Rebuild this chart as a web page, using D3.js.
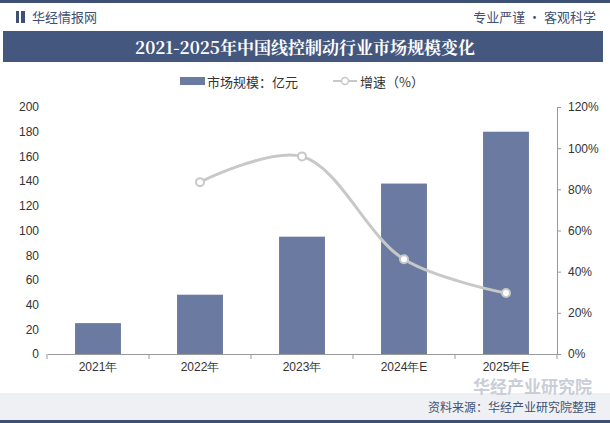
<!DOCTYPE html><html><head><meta charset="utf-8"><script src="https://cdn.jsdelivr.net/npm/d3@7"></script>
<style>body{margin:0;background:#fff}svg{display:block;font-family:"Noto Sans CJK SC","Noto Sans",sans-serif}</style></head><body><svg id="c" width="610" height="423"></svg><script>
const categories=["2021年","2022年","2023年","2024年E","2025年E"];
const marketSize=[25,48,95,138,180];
const growth=[null,83.5,96,46,29.6];
const leftTicks=[0,20,40,60,80,100,120,140,160,180,200];
const rightTicks=[0,20,40,60,80,100,120];
const svg=d3.select("#c");
svg.append("rect").attr("x",0).attr("y",0).attr("width",610).attr("height",3).attr("fill","#3f5075");
svg.append("rect").attr("x",16).attr("y",11).attr("width",3).attr("height",12).attr("fill","#3f5075");
svg.append("rect").attr("x",21).attr("y",11).attr("width",4).attr("height",12).attr("fill","#3f5075");
svg.append("text").attr("x",32).attr("y",22).attr("font-size",13).attr("fill","#3f5075").text("华经情报网");
svg.append("text").attr("x",596).attr("y",22).attr("text-anchor","end").attr("font-size",13).attr("fill","#3f5075").text("专业严谨 • 客观科学");
svg.append("rect").attr("x",3).attr("y",31).attr("width",600).attr("height",31).attr("fill","#44577e");
svg.append("text").attr("x",305).attr("y",54).attr("text-anchor","middle").attr("font-size",17).attr("font-weight","bold").attr("fill","#fff").attr("font-family","'Noto Serif CJK SC','Noto Sans CJK SC',serif").text("2021-2025年中国线控制动行业市场规模变化");
svg.append("rect").attr("x",180).attr("y",77).attr("width",25).attr("height",8).attr("fill","#6a7aa0");
svg.append("text").attr("x",207).attr("y",87).attr("font-size",13).attr("fill","#333").text("市场规模：亿元");
svg.append("line").attr("x1",333).attr("x2",357).attr("y1",81).attr("y2",81).attr("stroke","#c8c8c8").attr("stroke-width",2);
svg.append("circle").attr("cx",345).attr("cy",81).attr("r",3.5).attr("fill","#fff").attr("stroke","#c8c8c8").attr("stroke-width",1.5);
svg.append("text").attr("x",360).attr("y",87).attr("font-size",13).attr("fill","#333").text("增速（%）");
const L=47,R=557,T=107,B=354;
const x=d3.scaleBand().domain(categories).range([L,R]).paddingInner(0.55).paddingOuter(0.275);
const y=d3.scaleLinear().domain([0,200]).range([B,T]);
const y2=d3.scaleLinear().domain([0,120]).range([B,T]);
const ga=svg.append("g").attr("transform",`translate(${L},0)`).call(d3.axisLeft(y).tickValues(leftTicks).tickSize(0).tickPadding(8));
ga.select(".domain").remove();ga.selectAll("text").attr("font-size",12).attr("fill","#333");
const gr=svg.append("g").attr("transform",`translate(${R},0)`).call(d3.axisRight(y2).tickValues(rightTicks).tickSize(4).tickPadding(7).tickFormat(d=>d+"%"));
gr.selectAll("path,line").attr("stroke","#999");gr.selectAll("text").attr("font-size",12).attr("fill","#333");
const gb=svg.append("g").attr("transform",`translate(0,${B})`).call(d3.axisBottom(x).tickSize(0).tickPadding(8));
gb.select(".domain").attr("stroke","#999");gb.selectAll("text").attr("font-size",12).attr("fill","#333");
svg.selectAll(".tk").data([0,1,2,3,4,5]).enter().append("line").attr("x1",(d,i)=>L+i*(R-L)/5).attr("x2",(d,i)=>L+i*(R-L)/5).attr("y1",B).attr("y2",B+5).attr("stroke","#999");
svg.selectAll(".bar").data(marketSize).enter().append("rect").attr("x",(d,i)=>x(categories[i])).attr("width",x.bandwidth()).attr("y",d=>y(d)).attr("height",d=>B-y(d)).attr("fill","#6a7aa0");
const pts=categories.map((c,i)=>({c,v:growth[i]})).filter(d=>d.v!=null);
svg.append("path").datum(pts).attr("d",d3.line().x(d=>x(d.c)+x.bandwidth()/2).y(d=>y2(d.v)).curve(d3.curveCatmullRom)).attr("fill","none").attr("stroke","#c8c8c8").attr("stroke-width",3);
svg.selectAll(".pt").data(pts).enter().append("circle").attr("cx",d=>x(d.c)+x.bandwidth()/2).attr("cy",d=>y2(d.v)).attr("r",4).attr("fill","#fff").attr("stroke","#c8c8c8").attr("stroke-width",2);
svg.append("rect").attr("x",0).attr("y",393).attr("width",610).attr("height",27).attr("fill","#eef0f4");
svg.append("text").attr("x",592).attr("y",393).attr("text-anchor","end").attr("font-size",17).attr("font-weight","bold").attr("fill","#c9ced8").text("华经产业研究院");
svg.append("rect").attr("x",0).attr("y",420).attr("width",610).attr("height",3).attr("fill","#3f5075");
svg.append("text").attr("x",596).attr("y",412).attr("text-anchor","end").attr("font-size",12).attr("fill","#3f5075").text("资料来源：华经产业研究院整理");
</script></body></html>
